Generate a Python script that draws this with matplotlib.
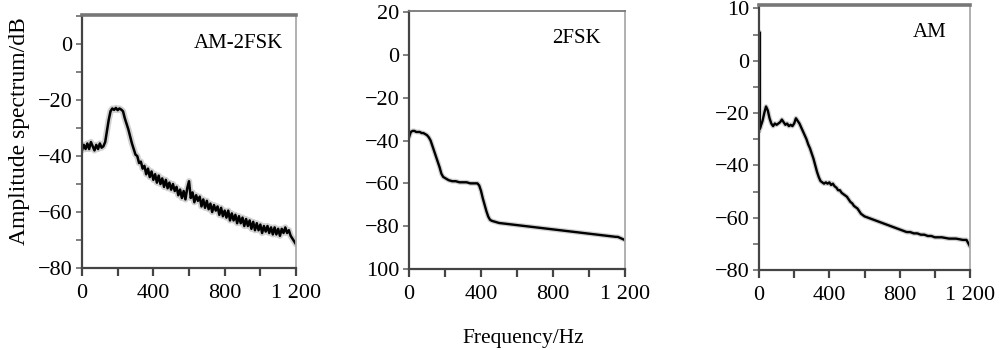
import matplotlib
matplotlib.use("Agg")
import matplotlib.pyplot as plt

plt.rcParams['font.family'] = ['Liberation Serif', 'DejaVu Serif']

# ---------------- data ----------------
freq1 = list(range(0, 1201, 10))
amp1 = [-38, -36, -37.5, -35.5, -37.5, -35, -36.5, -38, -36, -37.5,
        -35.5, -37, -36.5, -35, -31, -27, -24, -23, -23.5, -22.8,
        -23.6, -23, -23.4, -24, -26.5, -28.5, -30.5, -33, -35.5, -37.5,
        -39.5, -40, -42.5, -42, -44.5, -43.5, -46.5, -44.5, -47.5, -45.5,
        -48.5, -46.5, -49.5, -47, -50, -48, -51, -48.5, -51.5, -49.5,
        -52, -50, -52.5, -51, -54, -52, -55, -52.5, -55.5, -51.5,
        -49, -55, -53, -56.5, -54, -56, -54.5, -58, -55.5, -58.5,
        -56, -59, -57, -60, -57.5, -59.5, -58, -61, -58.5, -61.5,
        -59.5, -62, -59.5, -63, -60.5, -63, -61, -64, -61.5, -64,
        -62, -65, -62.5, -65, -63, -66, -63.5, -66.5, -64, -66.5,
        -64.5, -67.5, -65, -67, -65, -67.5, -65.5, -68, -65.5, -68,
        -66, -68.5, -66, -67.5, -65.5, -67.5, -66.5, -68.5, -69.5, -70.5,
        -71.5]

freq2 = [0, 10, 20, 30, 40, 50, 60, 70, 80, 90, 100, 110, 120, 130, 140,
         150, 160, 170, 180, 190, 200, 220, 240, 260, 280, 300, 320, 340,
         360, 380, 390, 400, 410, 420, 430, 440, 450, 460, 480, 500, 550,
         600, 650, 700, 750, 800, 850, 900, 950, 1000, 1050, 1100, 1150,
         1160, 1200]
amp2 = [-38.5, -36, -35.5, -35.5, -36, -36, -36, -36.5, -36.5, -37, -37.5,
        -38.5, -40, -42.5, -45, -47.5, -50, -52.5, -55.5, -57, -57.5,
        -58.5, -59, -59, -59.5, -59.5, -59.5, -60, -60, -60, -61, -63.5,
        -67, -70, -73, -75.5, -77, -77.5, -78, -78.5, -79, -79.5, -80,
        -80.5, -81, -81.5, -82, -82.5, -83, -83.5, -84, -84.5, -85, -85,
        -86.5]

freq3 = [0, 2, 5, 10, 20, 30, 40, 50, 60, 70, 80, 90, 100, 110, 120, 130,
         140, 150, 160, 170, 180, 190, 200, 210, 220, 230, 240, 250, 260,
         270, 280, 290, 300, 310, 320, 330, 340, 350, 360, 370, 380, 390,
         400, 410, 420, 430, 440, 450, 460, 470, 480, 490, 500, 510, 520,
         530, 540, 550, 560, 570, 580, 590, 600, 620, 640, 660, 680, 700,
         720, 740, 760, 780, 800, 820, 840, 860, 880, 900, 920, 940, 960,
         980, 1000, 1040, 1080, 1120, 1160, 1180, 1200]
amp3 = [-27, 11, -26, -25, -23, -20, -17.5, -19, -22, -24, -25, -24,
        -24.5, -24, -23.5, -22.5, -23.5, -24.5, -24, -25, -24.5, -25, -24,
        -22, -23, -24, -25.5, -27, -28.5, -30, -32, -33.5, -35.5, -37.5,
        -40, -42.5, -44.5, -46, -46.5, -47, -46.5, -47, -46.5, -47.5, -47,
        -48, -48.5, -49.5, -49.5, -50.5, -51, -51.5, -52, -53, -54, -54.5,
        -55.5, -56, -56.5, -57.5, -58.5, -59, -59.5, -60, -60.5, -61,
        -61.5, -62, -62.5, -63, -63.5, -64, -64.5, -65, -65.5, -65.5, -66,
        -66, -66.5, -66.5, -67, -67, -67.5, -67.5, -68, -68, -68.5, -68.5,
        -71]

panel_labels = ["AM-2FSK", "2FSK", "AM"]
xtick_vals = [0, 200, 400, 600, 800, 1000, 1200]
xtick_labels = ["0", "", "400", "", "800", "", "1 200"]
ytick_vals = [
    [0, -20, -40, -60, -80],
    [20, 0, -20, -40, -60, -80, -100],
    [20, 0, -20, -40, -60, -80],
]
ytick_labels = [
    ["0", "\u221220", "\u221240", "\u221260", "\u221280"],
    ["20", "0", "\u221220", "\u221240", "\u221260", "\u221280", "100"],
    ["10", "0", "\u221220", "\u221240", "\u221260", "\u221280"],
]
yminor = [[10, -10, -30, -50, -70], [], [10, -10, -30, -50, -70]]
ylims = [(-80, 10.4), (-100, 20.5), (-80, 21.3)]

# ---------------- layout ----------------
W, H = 1006, 350
fig = plt.figure(figsize=(W / 100, H / 100), dpi=100)

boxes = [(82, 296, 15, 268), (409, 625, 11, 269), (759, 970, 5, 270)]
txtpos = [(0.939, 0.889), (0.889, 0.895), (0.891, 0.898)]
series = [(freq1, amp1), (freq2, amp2), (freq3, amp3)]
line_w = [1.8, 1.7, 1.7]
halo_w = [4.5, 3.5, 3.5]

for i, (l, r, t, b) in enumerate(boxes):
    ax = fig.add_axes([l / W, (H - b) / H, (r - l) / W, (b - t) / H])
    f, a = series[i]
    ax.plot(f, a, color="#999999", lw=halo_w[i], alpha=0.45,
            solid_capstyle="round")
    ax.plot(f, a, color="black", lw=line_w[i])
    ax.set_xlim(0, 1200)
    ax.set_ylim(*ylims[i])
    ax.set_xticks(xtick_vals)
    ax.set_xticklabels(xtick_labels)
    ax.set_yticks(ytick_vals[i])
    ax.set_yticklabels(ytick_labels[i])
    if yminor[i]:
        ax.set_yticks(yminor[i], minor=True)
    ax.tick_params(axis="y", which="both", direction="out", length=4,
                   width=1.3, color="#777777", labelsize=16, pad=3,
                   labelcolor="black")
    ax.tick_params(axis="x", which="both", direction="out", length=5.5,
                   width=1.6, color="#444444", labelsize=16, pad=6,
                   labelcolor="black")
    for side in ("left", "bottom"):
        ax.spines[side].set_color("#444444")
        ax.spines[side].set_linewidth(1.6)
    ax.spines["top"].set_color("#777777")
    ax.spines["top"].set_linewidth(2.6 if i != 1 else 1.3)
    ax.spines["right"].set_color("#aaaaaa")
    ax.spines["right"].set_linewidth(1.3)
    ax.text(txtpos[i][0], txtpos[i][1], panel_labels[i], transform=ax.transAxes,
            ha="right", va="center", fontsize=15)

fig.text(523 / W, 1 - 338 / H, "Frequency/Hz", ha="center", va="center",
         fontsize=15.5)
fig.text(20 / W, 1 - 131 / H, "Amplitude spectrum/dB", ha="center",
         va="center", rotation=90, fontsize=17)

fig.savefig("out.png", dpi=100)
